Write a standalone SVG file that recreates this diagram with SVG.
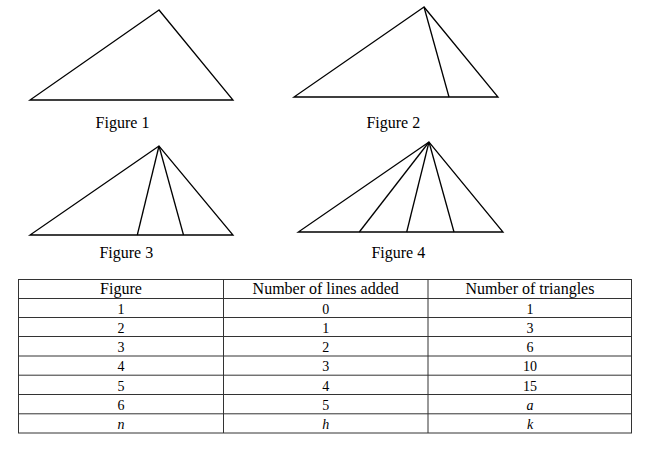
<svg xmlns="http://www.w3.org/2000/svg" width="656" height="451" viewBox="0 0 656 451">
<style>
.ln{stroke:#000;stroke-width:1.3;fill:none;stroke-linejoin:miter}
.lbl{font-family:"Liberation Serif","Times New Roman",serif;font-size:16px;fill:#000;text-anchor:middle}
.hd{font-family:"Liberation Serif","Times New Roman",serif;font-size:16px;fill:#000;text-anchor:middle}
.cell{font-family:"Liberation Serif","Times New Roman",serif;font-size:14px;fill:#000;text-anchor:middle}
.it{font-style:italic}
.tb{stroke:#333;stroke-width:1;fill:none}
</style>
<rect width="656" height="451" fill="#fff"/>
<g id="figure1">
<polygon class="ln" points="159,10 30,100 233,100"/>
<text class="lbl" x="122.5" y="127.5">Figure 1</text>
</g>
<g id="figure2">
<polygon class="ln" points="424,7 294,97 498,97"/>
<line class="ln" x1="424" y1="7" x2="449" y2="97"/>
<text class="lbl" x="393.3" y="127.5">Figure 2</text>
</g>
<g id="figure3">
<polygon class="ln" points="159,146 30,235 233,235"/>
<line class="ln" x1="159" y1="146" x2="137.3" y2="235"/>
<line class="ln" x1="159" y1="146" x2="183.5" y2="235"/>
<text class="lbl" x="126.3" y="257.5">Figure 3</text>
</g>
<g id="figure4">
<polygon class="ln" points="429,142 298.3,232 503,232"/>
<line class="ln" x1="429" y1="142" x2="359.3" y2="232"/>
<line class="ln" x1="429" y1="142" x2="406.7" y2="232"/>
<line class="ln" x1="429" y1="142" x2="454" y2="232"/>
<text class="lbl" x="398.3" y="257.5">Figure 4</text>
</g>
<g id="table">
<rect class="tb" x="18.5" y="279.5" width="613" height="153.5"/>
<line class="tb" x1="223.5" y1="279.5" x2="223.5" y2="433"/>
<line class="tb" x1="428" y1="279.5" x2="428" y2="433"/>
<line class="tb" x1="18.5" y1="298.5" x2="631.5" y2="298.5"/>
<line class="tb" x1="18.5" y1="317.5" x2="631.5" y2="317.5"/>
<line class="tb" x1="18.5" y1="336.5" x2="631.5" y2="336.5"/>
<line class="tb" x1="18.5" y1="356" x2="631.5" y2="356"/>
<line class="tb" x1="18.5" y1="375.2" x2="631.5" y2="375.2"/>
<line class="tb" x1="18.5" y1="394.5" x2="631.5" y2="394.5"/>
<line class="tb" x1="18.5" y1="413.8" x2="631.5" y2="413.8"/>
<text class="hd" x="121" y="294">Figure</text>
<text class="hd" x="325.7" y="294">Number of lines added</text>
<text class="hd" x="530" y="294">Number of triangles</text>
<text class="cell" x="121" y="313.5">1</text>
<text class="cell" x="325.7" y="313.5">0</text>
<text class="cell" x="530" y="313.5">1</text>
<text class="cell" x="121" y="332.7">2</text>
<text class="cell" x="325.7" y="332.7">1</text>
<text class="cell" x="530" y="332.7">3</text>
<text class="cell" x="121" y="352">3</text>
<text class="cell" x="325.7" y="352">2</text>
<text class="cell" x="530" y="352">6</text>
<text class="cell" x="121" y="371.2">4</text>
<text class="cell" x="325.7" y="371.2">3</text>
<text class="cell" x="530" y="371.2">10</text>
<text class="cell" x="121" y="390.5">5</text>
<text class="cell" x="325.7" y="390.5">4</text>
<text class="cell" x="530" y="390.5">15</text>
<text class="cell" x="121" y="409.7">6</text>
<text class="cell" x="325.7" y="409.7">5</text>
<text class="cell it" x="530" y="409.7">a</text>
<text class="cell it" x="121" y="429">n</text>
<text class="cell it" x="325.7" y="429">h</text>
<text class="cell it" x="530" y="429">k</text>
</g>
</svg>
